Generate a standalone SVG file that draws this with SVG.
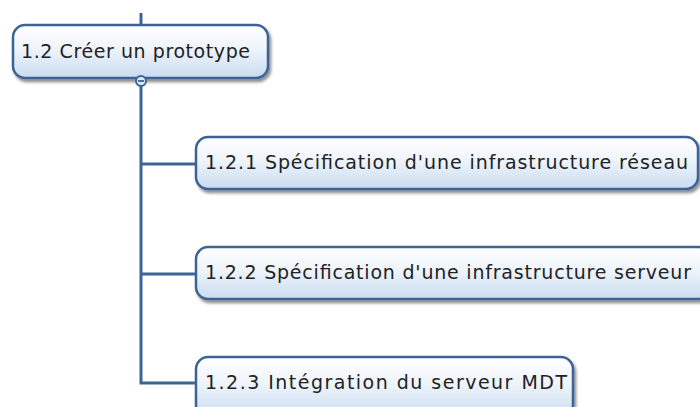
<svg xmlns="http://www.w3.org/2000/svg" width="700" height="407" viewBox="0 0 700 407">
<defs>
<linearGradient id="g" x1="0" y1="0" x2="0" y2="1">
<stop offset="0" stop-color="#ffffff"/>
<stop offset="0.45" stop-color="#eef4fb"/>
<stop offset="1" stop-color="#c9dcf1"/>
</linearGradient>
<filter id="sh" x="-5%" y="-10%" width="115%" height="130%">
<feGaussianBlur in="SourceAlpha" stdDeviation="1.5"/>
<feOffset dx="2" dy="3" result="o"/>
<feComponentTransfer><feFuncA type="linear" slope="0.45"/></feComponentTransfer>
<feMerge><feMergeNode/><feMergeNode in="SourceGraphic"/></feMerge>
</filter>
</defs>
<style>
.box{fill:url(#g);stroke:#3d6496;stroke-width:2.5;filter:url(#sh)}
.lbl{font-family:"DejaVu Sans",Verdana,sans-serif;font-size:19px;fill:#222}
.con{fill:none;stroke:#3d6496;stroke-width:3}
</style>
<g id="connectors">
<path class="con" d="M141 13 V25"/>
<path class="con" d="M141 86 V383 H196"/>
<path class="con" d="M141 164 H196"/>
<path class="con" d="M141 274 H196"/>
</g>
<g id="n12">
<rect class="box" x="13" y="25" width="255" height="53" rx="12"/>
<text class="lbl" x="21" y="58" textLength="229" lengthAdjust="spacing">1.2 Créer un prototype</text>
<g id="collapse">
<circle cx="141" cy="81" r="5" fill="#dce8f5" stroke="#3d6496" stroke-width="2"/>
<line x1="138" y1="81" x2="144" y2="81" stroke="#3d6496" stroke-width="1.8"/>
</g>
</g>
<g id="n121">
<rect class="box" x="196" y="137" width="502" height="52" rx="12"/>
<text class="lbl" x="205" y="169" textLength="483" lengthAdjust="spacing">1.2.1 Spécification d'une infrastructure réseau</text>
</g>
<g id="n122">
<rect class="box" x="196" y="247" width="515" height="52" rx="12"/>
<text class="lbl" x="205" y="279" textLength="486" lengthAdjust="spacing">1.2.2 Spécification d'une infrastructure serveur</text>
</g>
<g id="n123">
<rect class="box" x="196" y="357" width="377" height="60" rx="12"/>
<text class="lbl" x="205" y="389" textLength="362" lengthAdjust="spacing">1.2.3 Intégration du serveur MDT</text>
</g>
</svg>
